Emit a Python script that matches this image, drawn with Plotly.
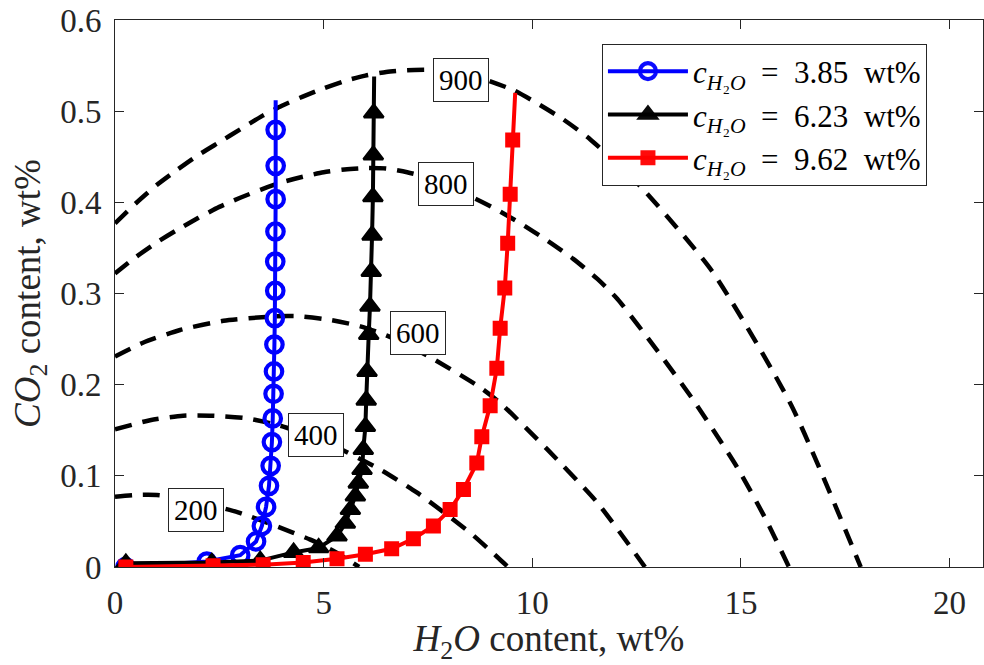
import plotly.graph_objects as go

# --- isobars: (H2O wt%, CO2 wt%) sampled along each dashed curve ---
iso_200_x = [0.0, 0.5, 1.0, 1.5, 2.2, 2.95, 3.88, 4.68, 5.3, 5.85]
iso_200_y = [0.077, 0.079, 0.079, 0.076, 0.069, 0.060, 0.0445, 0.030, 0.016, 0.0]

iso_400_x = [0.0, 0.84, 1.63, 2.35, 3.17, 3.96, 5.15, 6.35, 7.24, 8.51, 9.16, 9.42]
iso_400_y = [0.151, 0.161, 0.166, 0.166, 0.163, 0.155, 0.135, 0.107, 0.0815, 0.0376, 0.011, 0.0]

iso_600_x = [0.0, 0.67, 1.56, 2.6, 3.84, 4.44, 5.16, 5.88, 6.5, 7.48, 8.75, 9.23, 10.36, 11.56, 12.7]
iso_600_y = [0.231, 0.246, 0.260, 0.270, 0.275, 0.275, 0.271, 0.264, 0.254, 0.232, 0.197, 0.180, 0.129, 0.0705, 0.0]

iso_800_x = [0.0, 0.5, 1.0, 1.5, 2.0, 2.5, 3.0, 3.5, 4.0, 4.5, 5.0, 5.5, 6.0, 6.5, 7.0, 7.5,
             8.59, 9.11, 9.71, 10.36, 10.98, 11.56, 12.04, 13.0, 13.86, 14.9, 15.6, 16.15]
iso_800_y = [0.322, 0.340, 0.356, 0.370, 0.383, 0.395, 0.405, 0.414, 0.422, 0.428, 0.433, 0.436, 0.4375,
             0.437, 0.433, 0.427, 0.405, 0.393, 0.377, 0.358, 0.338, 0.316, 0.294, 0.237, 0.183,
             0.110, 0.052, 0.0]

iso_900_x = [0.0, 0.5, 1.0, 1.5, 2.0, 2.5, 3.0, 3.5, 4.0, 4.5, 5.0, 5.5, 6.0, 6.5, 7.0, 7.5, 8.0, 8.5,
             8.92, 9.55, 10.1, 10.74, 11.39, 12.52, 14.3, 16.2, 17.87]
iso_900_y = [0.377, 0.399, 0.419, 0.436, 0.452, 0.466, 0.480, 0.494, 0.506, 0.516, 0.525, 0.533, 0.539,
             0.543, 0.545, 0.5455, 0.5445, 0.540, 0.534, 0.523, 0.509, 0.491, 0.469, 0.421, 0.325,
             0.178, 0.0]

iso_labels = ["200", "400", "600", "800", "900"]
iso_label_x = [1.93, 4.82, 7.25, 7.93, 8.29]
iso_label_y = [0.063, 0.145, 0.2564, 0.420, 0.5345]

# --- degassing paths for three initial water contents ---
NB = "\u00a0"
s1_name = f"<i>c</i><sub><i>H</i>₂<i>O</i></sub>{NB}{NB}={NB}{NB}3.85{NB}{NB}wt%"
s1_x = [0.25, 2.2, 3.0, 3.38, 3.52, 3.62, 3.69, 3.73, 3.76, 3.78, 3.80, 3.81, 3.82,
        3.83, 3.84, 3.84, 3.845, 3.85, 3.85, 3.85, 3.85]
s1_y = [0.0, 0.006, 0.013, 0.028, 0.045, 0.066, 0.089, 0.111, 0.137, 0.163, 0.190, 0.2145, 0.244,
        0.273, 0.303, 0.335, 0.368, 0.4035, 0.440, 0.4795, 0.512]

s2_name = f"<i>c</i><sub><i>H</i>₂<i>O</i></sub>{NB}{NB}={NB}{NB}6.23{NB}{NB}wt%"
s2_x = [0.26, 2.32, 3.48, 4.28, 4.88, 5.32, 5.52, 5.64, 5.76, 5.83, 5.92, 5.95, 6.0, 6.02,
        6.04, 6.08, 6.11, 6.14, 6.16, 6.18, 6.19, 6.2, 6.21]
s2_y = [0.004, 0.005, 0.007, 0.016, 0.021, 0.034, 0.048, 0.063, 0.078, 0.092, 0.107, 0.129, 0.154, 0.183,
        0.2145, 0.255, 0.286, 0.324, 0.364, 0.406, 0.452, 0.498, 0.538]

s3_name = f"<i>c</i><sub><i>H</i>₂<i>O</i></sub>{NB}{NB}={NB}{NB}9.62{NB}{NB}wt%"
s3_x = [0.26, 2.35, 3.55, 4.51, 5.32, 6.0, 6.63, 7.15, 7.63, 8.03, 8.35, 8.67, 8.79, 8.99,
        9.15, 9.23, 9.34, 9.41, 9.47, 9.53, 9.59]
s3_y = [0.0, 0.0015, 0.0025, 0.005, 0.009, 0.014, 0.020, 0.031, 0.045, 0.063, 0.085, 0.114, 0.143, 0.177,
        0.218, 0.262, 0.306, 0.355, 0.409, 0.4685, 0.520]

x_ticks = [0, 5, 10, 15, 20]
y_ticks = [0, 0.1, 0.2, 0.3, 0.4, 0.5, 0.6]

FONT = "Liberation Serif"
AX = "#262626"

fig = go.Figure()

for xs, ys in [(iso_200_x, iso_200_y), (iso_400_x, iso_400_y), (iso_600_x, iso_600_y),
               (iso_800_x, iso_800_y), (iso_900_x, iso_900_y)]:
    fig.add_trace(go.Scatter(
        x=xs, y=ys, mode="lines", showlegend=False, hoverinfo="skip",
        line=dict(color="black", width=4.5, dash="17px,11px", shape="spline", smoothing=0.6),
    ))


def path(name, xs, ys, color, symbol, size, lw):
    # last point closes the line at the top without a marker
    op = [1] * (len(xs) - 1) + [0]
    return go.Scatter(
        x=xs, y=ys, mode="lines+markers", name=name,
        line=dict(color=color, width=4),
        marker=dict(symbol=symbol, size=size, color=color, opacity=op,
                    line=dict(color=color, width=lw)),
    )


fig.add_trace(path(s1_name, s1_x, s1_y, "#0000ff", "circle-open", 16.5, 4.2))
fig.add_trace(path(s2_name, s2_x, s2_y, "#000000", "triangle-up", 17, 2.5))
fig.add_trace(path(s3_name, s3_x, s3_y, "#ff0000", "square", 12.5, 2.5))

for t, lx, ly in zip(iso_labels, iso_label_x, iso_label_y):
    fig.add_annotation(
        x=lx, y=ly, xref="x", yref="y", text=t, showarrow=False,
        font=dict(family=FONT, size=29, color="black"),
        bgcolor="white", bordercolor=AX, borderwidth=1, borderpad=5,
    )

fig.update_layout(
    width=984, height=665,
    margin=dict(l=115, r=1, t=20, b=98),
    paper_bgcolor="white", plot_bgcolor="white",
    font=dict(family=FONT, size=33, color=AX),
    legend=dict(
        x=0.561, y=0.957, xanchor="left", yanchor="top",
        bgcolor="white", bordercolor=AX, borderwidth=1,
        font=dict(family=FONT, size=31, color="black"),
        tracegroupgap=0, itemwidth=80,
    ),
)

axis_common = dict(
    showgrid=False, zeroline=False, showline=True, linecolor=AX, linewidth=1,
    mirror="ticks", ticks="inside", ticklen=9, tickcolor=AX, tickwidth=1,
    tickfont=dict(family=FONT, size=33, color=AX),
)

fig.update_xaxes(
    range=[0, 20.8], tickvals=x_ticks, ticktext=[str(v) for v in x_ticks],
    title=dict(text="<i>H</i><sub>2</sub><i>O</i> content, wt%", standoff=2,
               font=dict(family=FONT, size=37, color=AX)),
    ticklabelstandoff=6,
    **axis_common,
)
fig.update_yaxes(
    range=[0, 0.6], tickvals=y_ticks, ticktext=["0", "0.1", "0.2", "0.3", "0.4", "0.5", "0.6"],
    title=dict(text="<i>CO</i><sub>2</sub> content, wt%", standoff=8,
               font=dict(family=FONT, size=37, color=AX)),
    ticklabelstandoff=6,
    **axis_common,
)

fig.write_html("out.html")
